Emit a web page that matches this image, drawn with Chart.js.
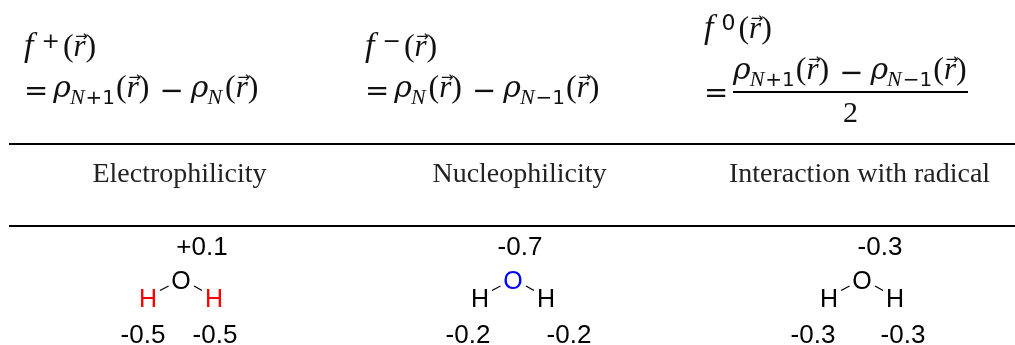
<!DOCTYPE html>
<html><head><meta charset="utf-8">
<style>html,body{margin:0;padding:0;background:#fff}canvas{display:block}</style>
<script src="https://cdn.jsdelivr.net/npm/chart.js@4"></script></head>
<body><canvas id="c" width="1015" height="345"></canvas>
<script>
// --- values and labels
const categories = ['Electrophilicity', 'Nucleophilicity', 'Interaction with radical'];
const oxygenValues = ['+0.1', '-0.7', '-0.3'];
const leftHValues = ['-0.5', '-0.2', '-0.3'];
const rightHValues = ['-0.5', '-0.2', '-0.3'];
const oxygenColors = ['#000000', '#0000ff', '#000000'];
const hydrogenColors = ['#ff0000', '#000000', '#000000'];

// --- layout, in scale units
const categoryCenters = [179.5, 519.5, 859.5];
const ruleYs = [144, 226];
const moleculeO = [[181, 280], [513, 280], [862, 280]];
const valueTop = [[202, 248], [520, 248], [880, 248]];
const valueLeft = [[143, 336], [468, 336], [813, 336]];
const valueRight = [[215, 336], [569, 336], [903, 336]];

const labelPoints = [];
categories.forEach((t, i) => labelPoints.push({x: categoryCenters[i], y: 175, t, font: '28px "Liberation Serif"', c: '#222'}));
[0, 1, 2].forEach(i => {
  const s = '25px "Liberation Sans"', v = '26px "Liberation Sans"';
  const [ox, oy] = moleculeO[i];
  labelPoints.push({x: ox, y: oy + 2, t: 'O', font: s, c: oxygenColors[i]});
  labelPoints.push({x: ox - 33, y: oy + 20, t: 'H', font: s, c: hydrogenColors[i]});
  labelPoints.push({x: ox + 33, y: oy + 20, t: 'H', font: s, c: hydrogenColors[i]});
  labelPoints.push({x: valueTop[i][0], y: valueTop[i][1], t: oxygenValues[i], font: v, c: '#000'});
  labelPoints.push({x: valueLeft[i][0], y: valueLeft[i][1], t: leftHValues[i], font: v, c: '#000'});
  labelPoints.push({x: valueRight[i][0], y: valueRight[i][1], t: rightHValues[i], font: v, c: '#000'});
});

const R = {k: 'r', t: '('}, RC = {k: 'rc', t: ')'};
const vec = [R, {k: 'v', t: 'r'}, RC];
const rhoN1 = [{k: 'g', t: 'ρ'}, {k: 'sub', t: 'N'}, {k: 'subr', t: '+1'}, ...vec];
const rhoNm = [{k: 'g', t: 'ρ'}, {k: 'sub', t: 'N'}, {k: 'subr', t: '−1'}, ...vec];
const rhoN = [{k: 'g', t: 'ρ'}, {k: 'subn', t: 'N'}, ...vec];
const minus = {k: 'op', t: '−'};
const eq = {k: 'eq', t: '='};
const formulas = [
  {x: 24, y: 56, runs: [{k: 'i', t: 'f'}, {k: 'sup', t: '+'}, ...vec]},
  {x: 24, y: 97, runs: [eq, ...rhoN1, minus, ...rhoN]},
  {x: 365, y: 56, runs: [{k: 'i', t: 'f'}, {k: 'sup', t: '−'}, ...vec]},
  {x: 365, y: 97, runs: [eq, ...rhoN, minus, ...rhoNm]},
  {x: 704, y: 38, runs: [{k: 'i', t: 'f'}, {k: 'sup', t: '0'}, ...vec]},
  {x: 704, y: 99, runs: [eq]},
  {x: 733, y: 79, runs: [...rhoN1, minus, ...rhoNm]},
  {x: 843, y: 122, runs: [{k: 'two', t: '2'}]}
];
const styles = {
  i: {f: 'italic 34px "Liberation Serif"', dy: 0, gap: 9, pre: 0},
  g: {f: 'italic 30px "DejaVu Serif"', dy: 0, gap: -1, pre: 0},
  r: {f: '32px "Liberation Serif"', dy: 0, gap: 0, pre: 0},
  rc: {f: '32px "Liberation Serif"', dy: 0, gap: 0, pre: 0},
  two: {f: '30px "Liberation Serif"', dy: 0, gap: 0, pre: 0},
  v: {f: 'italic 31px "Liberation Serif"', dy: 0, gap: 0, pre: 0},
  eq: {f: '29px "DejaVu Sans"', dy: 3, gap: 5, pre: 0},
  op: {f: '29px "DejaVu Sans"', dy: 3, gap: 7, pre: 10},
  sub: {f: 'italic 22px "Liberation Serif"', dy: 7, gap: 1, pre: 0},
  subn: {f: 'italic 22px "Liberation Serif"', dy: 7, gap: 3, pre: 0},
  subr: {f: '20px "DejaVu Sans"', dy: 7, gap: 1, pre: 0},
  sup: {f: '22px "DejaVu Sans"', dy: -8, gap: 3, pre: -1}
};

const textPlugin = {
  id: 'texts',
  afterDatasetsDraw(chart) {
    const ctx = chart.ctx, sx = chart.scales.x, sy = chart.scales.y;
    ctx.save();
    ctx.textAlign = 'center'; ctx.textBaseline = 'middle';
    chart.getDatasetMeta(0).data.forEach((el, i) => {
      const p = labelPoints[i];
      ctx.font = p.font; ctx.fillStyle = p.c;
      ctx.fillText(p.t, el.x, el.y);
    });
    ctx.textAlign = 'left'; ctx.textBaseline = 'alphabetic'; ctx.fillStyle = '#111';
    formulas.forEach(line => {
      let x = sx.getPixelForValue(line.x);
      const y = sy.getPixelForValue(line.y);
      line.runs.forEach(run => {
        const s = styles[run.k];
        x += s.pre;
        ctx.font = s.f;
        ctx.fillText(run.t, x, y + s.dy);
        const w = ctx.measureText(run.t).width;
        if (run.k === 'v') {
          ctx.font = '15px "DejaVu Sans"'; ctx.textAlign = 'center';
          ctx.fillText('→', x + w / 2 + 2, y - 15);
          ctx.textAlign = 'left';
        }
        x += w + s.gap;
      });
    });
    ctx.restore();
  }
};

const seg = (x1, y1, x2, y2, w) => ({type: 'line', data: [{x: x1, y: y1}, {x: x2, y: y2}], borderColor: '#000', borderWidth: w, pointRadius: 0, parsing: false});
const datasets = [{type: 'scatter', data: labelPoints.map(p => ({x: p.x, y: p.y})), pointRadius: 0}];
ruleYs.forEach(y => datasets.push(seg(9, y, 1015, y, 2)));
datasets.push(seg(733, 92, 968, 92, 2));
moleculeO.forEach(([x, y]) => {
  datasets.push(seg(x - 21, y + 10.5, x - 12.5, y + 6, 1.3));
  datasets.push(seg(x + 13, y + 6, x + 21, y + 10.5, 1.3));
});

new Chart(document.getElementById('c'), {
  data: {datasets},
  plugins: [{id: 'bg', beforeDraw(c) {c.ctx.fillStyle = '#fff'; c.ctx.fillRect(0, 0, c.width, c.height);}}, textPlugin],
  options: {
    responsive: false, animation: false, events: [],
    layout: {padding: 0},
    plugins: {legend: {display: false}, tooltip: {enabled: false}},
    scales: {
      x: {type: 'linear', min: 0, max: 1015, display: false},
      y: {type: 'linear', min: 0, max: 345, reverse: true, display: false}
    }
  }
});
</script></body></html>
